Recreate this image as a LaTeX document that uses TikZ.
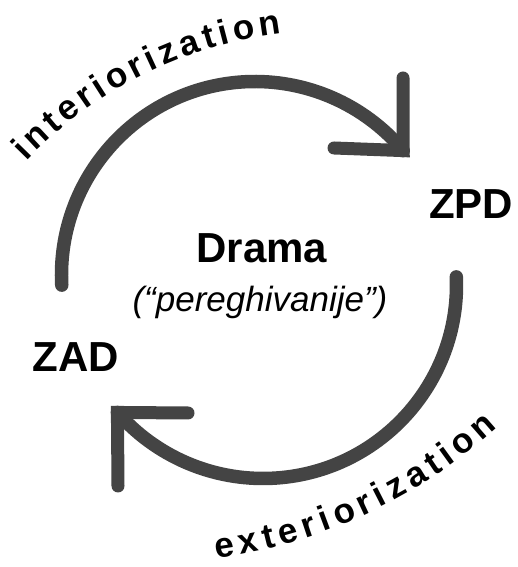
\documentclass[tikz,border=0pt]{standalone}
\usepackage{fontspec}
\setmainfont{Liberation Sans}
\usetikzlibrary{decorations.text}
\definecolor{arrowgray}{HTML}{444444}
\newcommand\curvefont{\fontsize{35}{38}\selectfont\bfseries}
\begin{document}
\begin{tikzpicture}[x=1pt,y=1pt,
  arcline/.style={draw=arrowgray, line width=13.5pt, line cap=round},
  armline/.style={draw=arrowgray, line width=13pt, line cap=round, line join=miter},
  bigbold/.style={font=\fontsize{42}{46}\selectfont\bfseries, text=black, inner sep=0pt, anchor=base},
  subital/.style={font=\fontsize{35}{40}\selectfont\itshape, text=black, inner sep=0pt, anchor=base},
  curvetext/.style={decorate, decoration={text along path, text align={fit to path}, text={|\curvefont|#1}}}
]
\useasboundingbox (0,0) rectangle (518,567);
% circle centres
\coordinate (cu) at (255,292);
\coordinate (cl) at (263,282);
% upper arc (interiorization)
\path[arcline] (cu) ++(183:193.5) arc[start angle=183, end angle=40, radius=193.5] coordinate (tipA);
\coordinate (armA1) at (403,489);
\coordinate (armA2) at (334,419);
\path[armline] (armA2) -- (tipA) -- (armA1);
% lower arc (exteriorization)
\path[arcline] (cl) ++(2.4:193.5) arc[start angle=2.4, end angle=-138.8, radius=193.5] coordinate (tipB);
\coordinate (armB1) at (188,154);
\coordinate (armB2) at (118,81);
\path[armline] (armB1) -- (tipB) -- (armB2);
% labels
\node[bigbold] (drama) at (262,304) {Drama};
\node[subital] (pereg) at (260,255) {(“pereghivanije”)};
\node[bigbold] (zpd) at (471,348) {ZPD};
\node[bigbold] (zad) at (76,195) {ZAD};
% curved texts
\coordinate (ci) at (334,111);
\coordinate (ce) at (146,528);
\path[curvetext=interiorization] (ci) ++(136.3:426) arc[start angle=136.3, end angle=97.1, radius=426];
\path[curvetext=exteriorization] (ce) ++(-82.3:524) arc[start angle=-82.3, end angle=-47.8, radius=524];
\end{tikzpicture}
\end{document}
